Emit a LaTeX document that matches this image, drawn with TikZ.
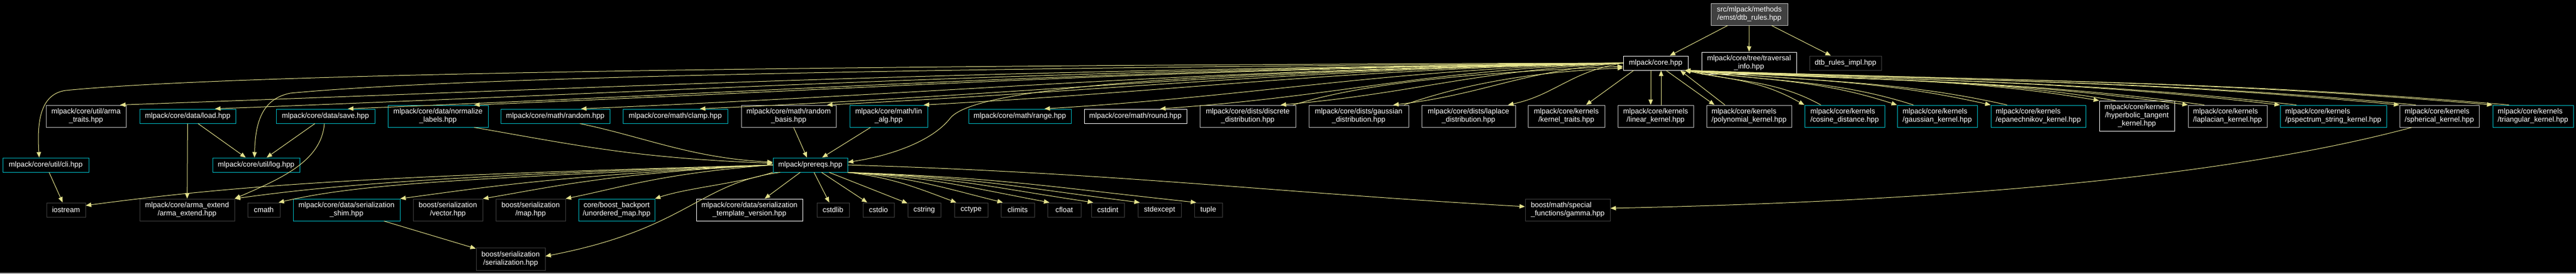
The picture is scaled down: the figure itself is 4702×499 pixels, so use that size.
\documentclass[tikz,border=0pt]{standalone}
\usepackage{fontspec}
\setmainfont{Liberation Sans}
\usetikzlibrary{arrows.meta}

\definecolor{dxcyan}{RGB}{0,190,200}
\definecolor{dxgrey}{RGB}{191,191,191}
\definecolor{dxdark}{RGB}{64,64,64}
\definecolor{dxedge}{RGB}{228,226,140}
\definecolor{dxbar}{RGB}{80,80,80}

\begin{document}
\begin{tikzpicture}[x=1pt, y=-1pt, >={Triangle[length=10pt,width=8pt]}]

    \tikzset{%
    every file/.style={
        rectangle,
        draw,
        fill=black,
        text=white,
        line width=1pt,
        inner sep=0pt,
        align=center,
        minimum height=40pt,
        font=\fontsize{13.3pt}{15pt}\selectfont
        },
    file cyan/.style={draw=dxcyan},
    file grey/.style={draw=dxgrey},
    file white/.style={draw=white},
    file sys/.style={draw=dxdark},
    file top/.style={draw=dxgrey, fill=dxdark},
    file short/.style={minimum height=26pt},
    file left/.style={align=left},
    include/.style={->, draw=dxedge, line width=1pt},
    }

    % Page background and frame
    \fill[black] (0,0) rectangle (4702,499);
    \useasboundingbox (0,0) rectangle (4702,499);
    \fill[dxbar] (0,497) rectangle (4702,499);

    % The documented file
    \node [every file/.try, file top, minimum width=140pt] (dtb) at (3193,26) {src/mlpack/methods\\/emst/dtb\_rules.hpp};

    % Direct includes
    \node [every file/.try, file white, file short, minimum width=118pt] (core) at (3022,115) {mlpack/core.hpp};
    \node [every file/.try, file white, minimum width=173pt] (trav) at (3192.5,115) {mlpack/core/tree/traversal\\\_info.hpp};
    \node [every file/.try, file sys, file short, minimum width=131pt] (impl) at (3368.5,115) {dtb\_rules\_impl.hpp};

    % Headers pulled in by core.hpp
    \node [every file/.try, file grey, minimum width=146pt] (traits) at (157,212) {mlpack/core/util/arma\\\_traits.hpp};
    \node [every file/.try, file cyan, file short, minimum width=175pt] (load) at (342.5,212) {mlpack/core/data/load.hpp};
    \node [every file/.try, file cyan, file short, minimum width=180pt] (save) at (594,212) {mlpack/core/data/save.hpp};
    \node [every file/.try, file cyan, minimum width=183pt] (labels) at (799.5,212) {mlpack/core/data/normalize\\\_labels.hpp};
    \node [every file/.try, file cyan, file short, minimum width=199pt] (random) at (1013.5,212) {mlpack/core/math/random.hpp};
    \node [every file/.try, file cyan, file short, minimum width=191pt] (clamp) at (1232.5,212) {mlpack/core/math/clamp.hpp};
    \node [every file/.try, file grey, minimum width=173pt] (basis) at (1439.5,212) {mlpack/core/math/random\\\_basis.hpp};
    \node [every file/.try, file cyan, minimum width=142pt] (linalg) at (1622,212) {mlpack/core/math/lin\\\_alg.hpp};
    \node [every file/.try, file cyan, file short, minimum width=187pt] (range) at (1861.5,212) {mlpack/core/math/range.hpp};
    \node [every file/.try, file white, file short, minimum width=187pt] (round) at (2072.5,212) {mlpack/core/math/round.hpp};
    \node [every file/.try, file grey, minimum width=175pt] (discrete) at (2277.5,212) {mlpack/core/dists/discrete\\\_distribution.hpp};
    \node [every file/.try, file grey, minimum width=182pt] (gaussdist) at (2480,212) {mlpack/core/dists/gaussian\\\_distribution.hpp};
    \node [every file/.try, file grey, minimum width=171pt] (laplacedist) at (2680.5,212) {mlpack/core/dists/laplace\\\_distribution.hpp};
    \node [every file/.try, file grey, minimum width=140pt] (ktraits) at (2859,212) {mlpack/core/kernels\\/kernel\_traits.hpp};
    \node [every file/.try, file grey, minimum width=138pt] (linear) at (3022,212) {mlpack/core/kernels\\/linear\_kernel.hpp};
    \node [every file/.try, file grey, file left, minimum width=155pt] (poly) at (3192.5,212) {mlpack/core/kernels\\/polynomial\_kernel.hpp};
    \node [every file/.try, file cyan, file left, minimum width=146pt] (cosine) at (3367,212) {mlpack/core/kernels\\/cosine\_distance.hpp};
    \node [every file/.try, file cyan, file left, minimum width=146pt] (gausskern) at (3536,212) {mlpack/core/kernels\\/gaussian\_kernel.hpp};
    \node [every file/.try, file cyan, file left, minimum width=173pt] (epan) at (3720.5,212) {mlpack/core/kernels\\/epanechnikov\_kernel.hpp};
    \node [every file/.try, file white, minimum width=137pt, minimum height=55pt] (hyper) at (3900.5,211.5) {mlpack/core/kernels\\/hyperbolic\_tangent\\\_kernel.hpp};
    \node [every file/.try, file grey, file left, minimum width=144pt] (laplacian) at (4066,212) {mlpack/core/kernels\\/laplacian\_kernel.hpp};
    \node [every file/.try, file cyan, file left, minimum width=194pt] (pspectrum) at (4259,212) {mlpack/core/kernels\\/pspectrum\_string\_kernel.hpp};
    \node [every file/.try, file grey, file left, minimum width=145pt] (spherical) at (4452.5,212) {mlpack/core/kernels\\/spherical\_kernel.hpp};
    \node [every file/.try, file cyan, file left, minimum width=147pt] (triangular) at (4623.5,212) {mlpack/core/kernels\\/triangular\_kernel.hpp};

    % Middle layer
    \node [every file/.try, file cyan, file short, minimum width=157pt] (cli) at (83.5,301) {mlpack/core/util/cli.hpp};
    \node [every file/.try, file cyan, file short, minimum width=159pt] (log) at (467.5,301) {mlpack/core/util/log.hpp};
    \node [every file/.try, file cyan, file short, minimum width=136pt] (prereqs) at (1479,301) {mlpack/prereqs.hpp};

    % Headers pulled in by prereqs.hpp
    \node [every file/.try, file sys, file short, minimum width=71pt] (iostream) at (120.5,383) {iostream};
    \node [every file/.try, file sys, minimum width=173pt] (armaext) at (341.5,383) {mlpack/core/arma\_extend\\/arma\_extend.hpp};
    \node [every file/.try, file sys, file short, minimum width=59pt] (cmath) at (481.5,383) {cmath};
    \node [every file/.try, file cyan, minimum width=195pt] (shim) at (632.5,383) {mlpack/core/data/serialization\\\_shim.hpp};
    \node [every file/.try, file sys, minimum width=127pt] (vector) at (817.5,383) {boost/serialization\\/vector.hpp};
    \node [every file/.try, file sys, minimum width=127pt] (map) at (968.5,383) {boost/serialization\\/map.hpp};
    \node [every file/.try, file cyan, minimum width=139pt] (backport) at (1125.5,383) {core/boost\_backport\\/unordered\_map.hpp};
    \node [every file/.try, file white, minimum width=194pt] (tversion) at (1368,383) {mlpack/core/data/serialization\\\_template\_version.hpp};
    \foreach \n/\x/\w in {cstdlib/1520.5/59, cstdio/1603.5/57, cstring/1687/60, cctype/1772.5/61, climits/1857.5/61, cfloat/1942.5/61, cstdint/2022/60, stdexcept/2116.5/79, tuple/2205.5/51}
    \node [every file/.try, file sys, file short, minimum width=\w pt] (\n) at (\x,383) {\n};
    \node [every file/.try, file sys, file left, minimum width=155pt] (gamma) at (2861.5,383) {boost/math/special\\\_functions/gamma.hpp};

    % Bottom
    \node [every file/.try, file sys, minimum width=126pt, minimum height=41pt] (serial) at (932,472.5) {boost/serialization\\/serialization.hpp};

    % dtb_rules.hpp includes
    \draw [include] (dtb) -- (core);
    \draw [include] (dtb) -- (trav);
    \draw [include] (dtb) -- (impl);

    % core.hpp to the left side
    \draw [include] (core.west) .. controls (1900,118) and (500,128) .. (120,165) .. controls (70,172) and (68,230) .. ([xshift=-12pt]cli.north);
    \draw [include] (core.west) .. controls (2000,122) and (900,135) .. (530,170) .. controls (480,180) and (466,220) .. ([xshift=-3pt]log.north);
    \draw [include] (core.west) .. controls (2300,130) and (1790,150) .. (1735,215) .. controls (1700,260) and (1620,285) .. ([yshift=5pt]prereqs.east);
    \foreach \tgt/\sx/\ox/\ix/\dy in {traits/62/1250/1100/40, load/50/1150/1030/40, save/41/1050/930/38, labels/66/950/840/35, random/47/850/760/33, clamp/45/760/670/30, basis/70/650/580/30, linalg/64/570/510/28, range/45/470/420/26, round/45/380/340/24, discrete/60/280/250/22, gaussdist/63/190/170/20, laplacedist/72/95/85/18}
    \draw [include] (core.west) .. controls +(-\ox,15) and +(\ix,-\dy) .. ([xshift=\sx pt]\tgt.north);

    % dists that include core.hpp back
    \draw [include] ([xshift=83pt]discrete.north) .. controls +(130,-40) and +(-280,12) .. ([yshift=-6pt]core.west);
    \draw [include] ([xshift=83pt]gaussdist.north) .. controls +(100,-35) and +(-180,8) .. ([yshift=-9pt]core.west);

    % core.hpp straight down
    \draw [include] ([xshift=-40pt]core.south) -- ([xshift=36pt]ktraits.north);
    \draw [include] ([xshift=-9pt]core.south) -- ([xshift=-9pt]linear.north);
    \draw [include] ([xshift=10pt]linear.north) -- ([xshift=10pt]core.south);
    \draw [include] ([xshift=19pt]core.south) -- ([xshift=15pt]poly.north west);
    \draw [include] ([xshift=34pt]poly.north west) -- ([xshift=45pt]core.south);

    % core.hpp and the kernels, both ways
    \foreach \tgt/\ox/\ix in {cosine/90/80, gausskern/160/140, epan/230/200, hyper/310/270, laplacian/380/330, pspectrum/450/390, spherical/540/470, triangular/610/530}
    {
    \draw [include] (core.south east) .. controls +(\ox,20) and +(-\ix,-45) .. (\tgt.north west);
    \draw [include] ([xshift=30pt]\tgt.north west) .. controls +(-\ix,-45) and +(\ox,20) .. ([xshift=-6pt]core.south east);
    }

    % data and util headers
    \draw [include] (load) -- (armaext);
    \draw [include] (load) -- (log);
    \draw [include] (save) -- (log);
    \draw [include] ([xshift=-2pt]save.south) .. controls +(-5,70) and +(80,-35) .. (armaext.north east);
    \draw [include] (cli) -- (iostream);

    % into prereqs.hpp
    \draw [include] (basis) -- (prereqs);
    \draw [include] (linalg) -- (prereqs);
    \draw [include] ([xshift=66pt]labels.south) .. controls +(200,35) and +(-250,-10) .. ([yshift=3pt]prereqs.west);
    \draw [include] ([xshift=45pt]random.south) .. controls +(120,25) and +(-150,-8) .. ([yshift=5pt]prereqs.west);

    % prereqs.hpp to the left
    \draw [include] (prereqs.west) .. controls +(-700,20) and +(300,-40) .. ([yshift=8pt]iostream.east);
    \draw [include] (prereqs.west) .. controls +(-600,20) and +(180,-25) .. (armaext.north east);
    \draw [include] (prereqs.west) .. controls +(-550,25) and +(150,-35) .. ([xshift=-3pt]cmath.north east);
    \draw [include] (prereqs.west) .. controls +(-400,20) and +(150,-20) .. (shim.north east);
    \draw [include] (prereqs.west) .. controls +(-300,15) and +(120,-20) .. (vector.north east);
    \draw [include] (prereqs.west) .. controls +(-200,15) and +(100,-20) .. (map.north east);
    \draw [include] (prereqs.south west) .. controls +(-60,20) and +(60,-20) .. (backport.north east);
    \draw [include] ([xshift=-55pt]prereqs.south) .. controls +(-150,20) and +(260,-50) .. ([yshift=5pt]serial.east);

    % prereqs.hpp downwards
    \foreach \tgt in {tversion, cstdlib, cstdio, cstring}
    \draw [include] (prereqs) -- (\tgt);
    \foreach \tgt/\ox in {cctype/80, climits/120, cfloat/160, cstdint/200, stdexcept/240, tuple/280}
    \draw [include] (prereqs.south east) .. controls +(\ox,10) and +(-\ox,-30) .. ([xshift=4pt]\tgt.north west);
    \draw [include] (prereqs.east) .. controls +(500,15) and +(-450,-25) .. ([yshift=6pt]gamma.west);

    % the rest
    \draw [include] (shim) -- (serial);
    \draw [include] ([xshift=-50pt]spherical.south) .. controls +(-300,80) and +(700,-15) .. ([yshift=3pt]gamma.east);

\end{tikzpicture}
\end{document}
